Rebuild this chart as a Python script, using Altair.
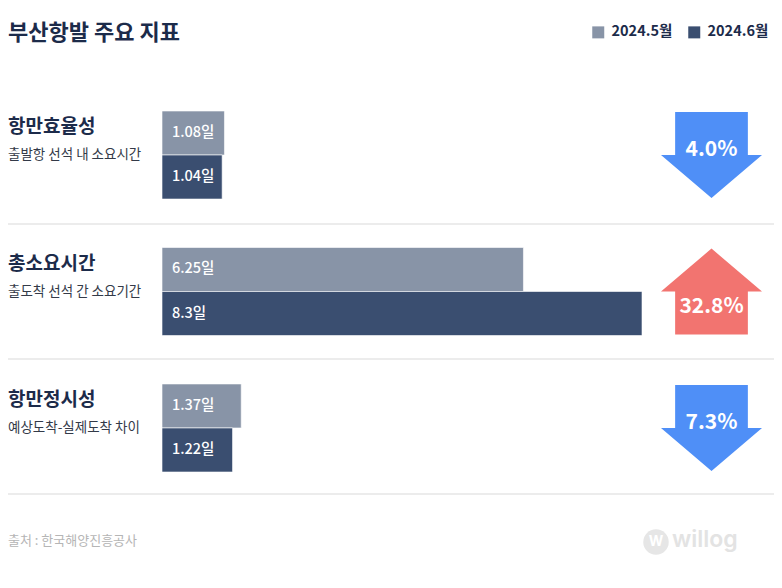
import altair as alt
import pandas as pd

# ---- data ----
metrics = ["항만효율성", "총소요시간", "항만정시성"]
descriptions = ["출발항 선석 내 소요시간", "출도착 선석 간 소요기간", "예상도착-실제도착 차이"]
periods = ["2024.5월", "2024.6월"]
may_values = [1.08, 6.25, 1.37]
jun_values = [1.04, 8.3, 1.22]
change_pct = [4.0, 32.8, 7.3]
change_dir = ["down", "up", "down"]

title_text = "부산항발 주요 지표"
source_text = "출처 : 한국해양진흥공사"

FONT = "Noto Sans CJK KR"
GRAY = "#8894a7"
NAVY = "#3a4e70"
BLUE = "#4f8ff7"
RED = "#f27470"
DARK = "#1c2b4a"

rows = []
for m, a, b in zip(metrics, may_values, jun_values):
    rows.append({"metric": m, "period": periods[0], "value": a, "label": f"{a}일"})
    rows.append({"metric": m, "period": periods[1], "value": b, "label": f"{b}일"})
bars_df = pd.DataFrame(rows)

meta_df = pd.DataFrame({
    "metric": metrics,
    "desc": descriptions,
    "pct": [f"{p}%" for p in change_pct],
    "dir": change_dir,
})

DOWN = "M-0.72,-0.85 L0.72,-0.85 L0.72,0 L1,0 L0,0.85 L-1,0 L-0.72,0 Z"
UP = "M0,-0.85 L1,0 L0.72,0 L0.72,0.85 L-0.72,0.85 L-0.72,0 L-1,0 Z"

y_scale = alt.Scale(domain=metrics, range=[103, 464], paddingInner=0.355, paddingOuter=0)
x_scale = alt.Scale(domain=[0, 8.3], range=[154, 634], nice=False, zero=True)
yoff_scale = alt.Scale(domain=periods, paddingInner=0, paddingOuter=0)

Y = alt.Y("metric:N", scale=y_scale, axis=None)
ARROW_X = 703.5

bars = alt.Chart(bars_df).mark_bar(stroke="#ffffff", strokeWidth=1, strokeOpacity=0.6).encode(
    x=alt.X("value:Q", scale=x_scale, axis=None),
    y=Y,
    yOffset=alt.YOffset("period:N", scale=yoff_scale),
    color=alt.Color(
        "period:N",
        scale=alt.Scale(domain=periods, range=[GRAY, NAVY]),
        legend=alt.Legend(
            orient="none", legendX=583, legendY=17, direction="horizontal", title=None,
            padding=0, symbolType="square", symbolSize=144, symbolStrokeWidth=0, symbolOpacity=1,
            labelFont=FONT, labelFontSize=14.5, labelFontWeight="bold", labelColor=DARK,
            columnPadding=14, labelOffset=6, labelLimit=200,
        ),
    ),
)

bar_labels = alt.Chart(bars_df).mark_text(
    align="left", baseline="middle", dx=10, font=FONT, fontSize=14.5, fontWeight=500, color="#ffffff"
).encode(
    x=alt.datum(0, scale=x_scale),
    y=Y,
    yOffset=alt.YOffset("period:N", scale=yoff_scale),
    text="label:N",
)

cat_labels = alt.Chart(meta_df).mark_text(
    align="left", baseline="middle", dy=-28, font=FONT, fontSize=19, fontWeight="bold", color=DARK
).encode(x=alt.value(0), y=Y, text="metric:N")

desc_labels = alt.Chart(meta_df).mark_text(
    align="left", baseline="middle", dy=0, font=FONT, fontSize=13.5, color="#333a48"
).encode(x=alt.value(0), y=Y, text="desc:N")

arrows_down = alt.Chart(meta_df).transform_filter(alt.datum.dir == "down").mark_point(
    shape=DOWN, filled=True, opacity=1, size=10201, strokeWidth=0, color=BLUE
).encode(x=alt.value(ARROW_X), y=Y)

arrows_up = alt.Chart(meta_df).transform_filter(alt.datum.dir == "up").mark_point(
    shape=UP, filled=True, opacity=1, size=10201, strokeWidth=0, color=RED
).encode(x=alt.value(ARROW_X), y=Y)

pct_down = alt.Chart(meta_df).transform_filter(alt.datum.dir == "down").mark_text(
    align="center", baseline="middle", dy=-5, font=FONT, fontSize=21, fontWeight="bold", color="#ffffff"
).encode(x=alt.value(ARROW_X), y=Y, text="pct:N")

pct_up = alt.Chart(meta_df).transform_filter(alt.datum.dir == "up").mark_text(
    align="center", baseline="middle", dy=15, font=FONT, fontSize=21, fontWeight="bold", color="#ffffff"
).encode(x=alt.value(ARROW_X), y=Y, text="pct:N")

one = alt.Data(values=[{}])

title = alt.Chart(one).mark_text(
    text=title_text, align="left", baseline="middle", font=FONT, fontSize=22, fontWeight="bold", color=DARK
).encode(x=alt.value(0), y=alt.value(25))

sep_df = pd.DataFrame({"pos": [216, 351, 486]})
seps = alt.Chart(sep_df).mark_rule(color="#e6e6e6", strokeWidth=1.5).encode(
    y=alt.Y("pos:Q", scale=None), x=alt.value(0), x2=alt.value(766)
)

footer = alt.Chart(one).mark_text(
    text=source_text, align="left", baseline="middle", font=FONT, fontSize=13, color="#b5b5b5"
).encode(x=alt.value(0), y=alt.value(533))

logo_circle = alt.Chart(one).mark_point(shape="circle", filled=True, size=650, color="#e6e6e6", opacity=1).encode(
    x=alt.value(648), y=alt.value(534)
)
logo_w = alt.Chart(one).mark_text(
    text="W", align="center", baseline="middle", font="Inter", fontSize=14, fontWeight="bold", color="#ffffff"
).encode(x=alt.value(648), y=alt.value(534))
logo_text = alt.Chart(one).mark_text(
    text="willog", align="left", baseline="middle", font="Inter", fontSize=23, fontWeight=600, color="#e3e3e3"
).encode(x=alt.value(664), y=alt.value(532))

chart = alt.layer(
    seps, bars, bar_labels, cat_labels, desc_labels, arrows_down, arrows_up, pct_down, pct_up,
    title, footer, logo_circle, logo_w, logo_text,
).properties(
    width=766, height=572, autosize="none", padding=0, background="#ffffff"
).configure_view(stroke=None)

chart.save("out.html", embed_options={"renderer": "svg", "actions": False})
